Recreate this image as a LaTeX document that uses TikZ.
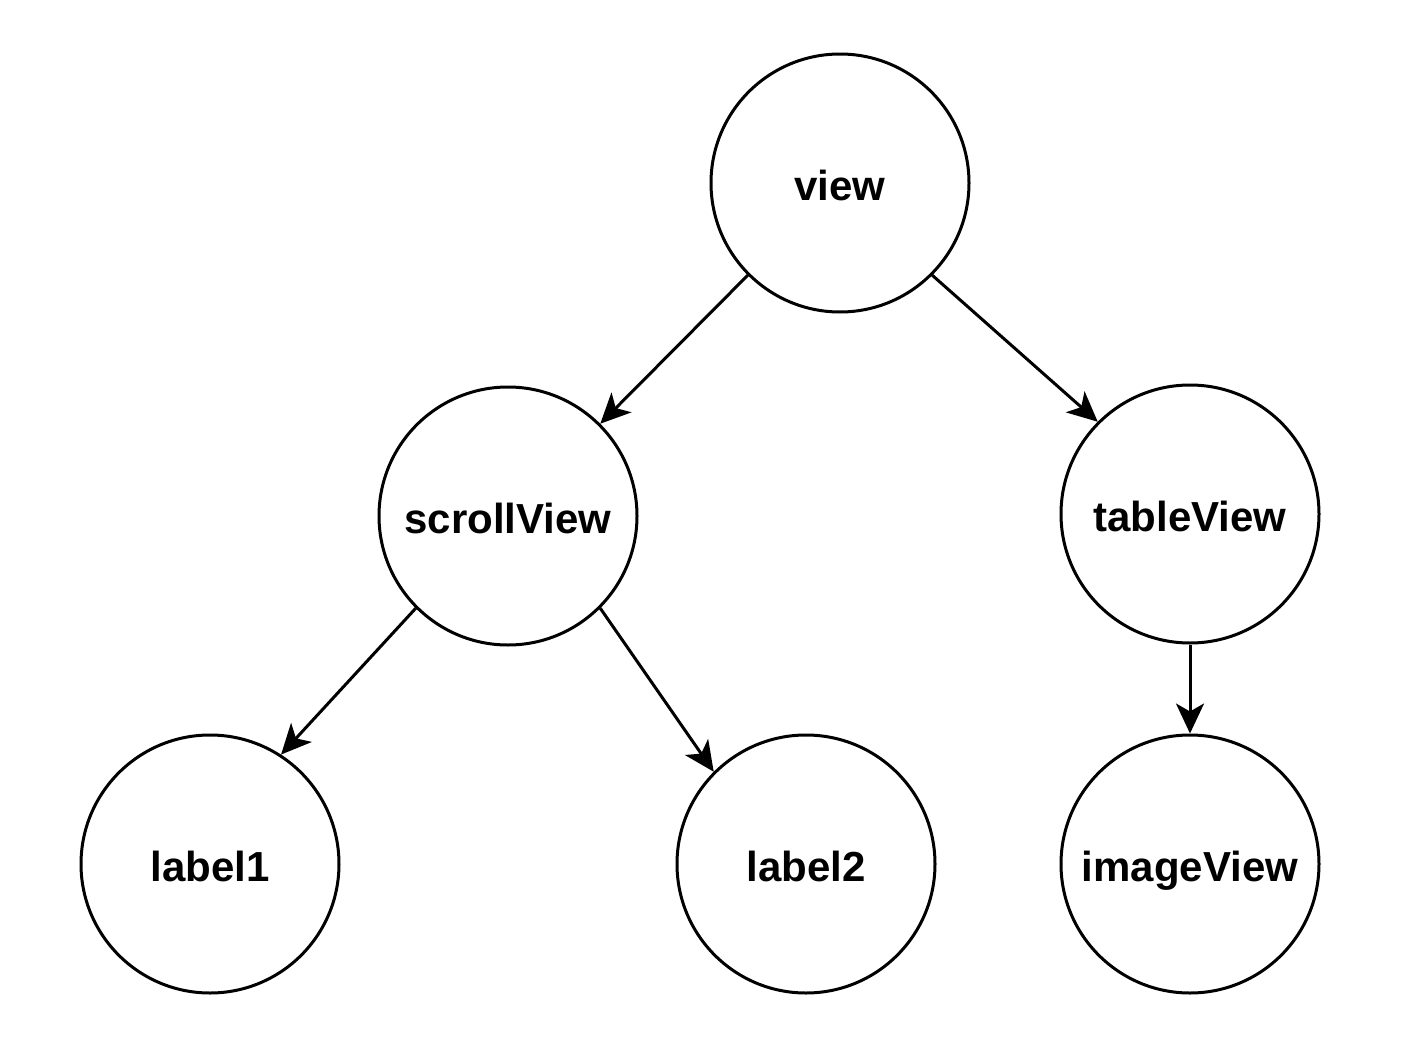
\documentclass[tikz,border=0pt]{standalone}
\usepackage{fontspec}
\setmainfont{Liberation Sans}
\usetikzlibrary{arrows.meta}
\begin{document}
\begin{tikzpicture}[x=0.5pt,y=0.5pt,
  vnode/.style={circle,draw=black,line width=1.5pt,minimum size=129pt,inner sep=0pt},
  vlabel/.style={font=\fontsize{21pt}{24pt}\selectfont\bfseries,text height=0.75em,text depth=0.2em,inner sep=0pt,yshift=-6pt},
  conn/.style={line width=1.5pt,-{Stealth[length=15pt,width=14pt,inset=4pt]}}]
\useasboundingbox (0,0) rectangle (1404,-1044);
\node[vnode] (view) at (840,-183) {};
\node[vnode] (scroll) at (508,-516) {};
\node[vnode] (table) at (1190,-514) {};
\node[vnode] (l1) at (210,-864) {};
\node[vnode] (l2) at (806,-864) {};
\node[vnode] (img) at (1190,-864) {};
\node[vlabel] (tview) at (view.center) {view};
\node[vlabel] (tscroll) at (scroll.center) {scrollView};
\node[vlabel] (ttable) at (table.center) {tableView};
\node[vlabel] (tl1) at (l1.center) {label1};
\node[vlabel] (tl2) at (l2.center) {label2};
\node[vlabel] (timg) at (img.center) {imageView};
\draw[conn] (view.225) -- (scroll.45);
\draw[conn] (view.315) -- (table.135);
\draw[conn] (scroll.225) -- (l1.57);
\draw[conn] (scroll.315) -- (l2.135);
\draw[conn] (table) -- (img);
\end{tikzpicture}
\end{document}
